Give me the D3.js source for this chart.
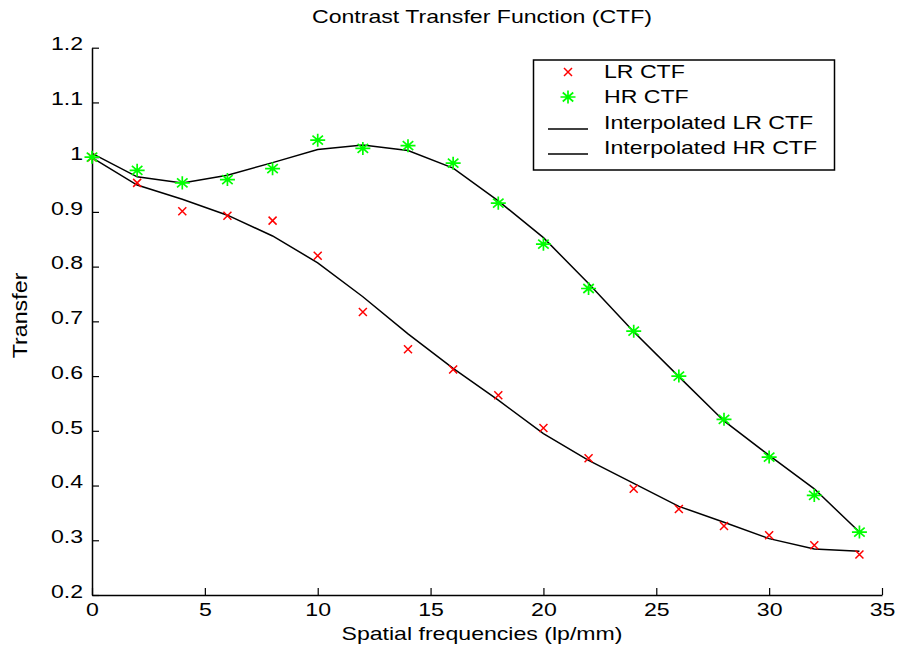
<!DOCTYPE html>
<html>
<head>
<meta charset="utf-8">
<script src="https://cdn.jsdelivr.net/npm/d3@7"></script>
<style>
  body { margin: 0; background: #fff; }
  svg text { font-family: "Liberation Sans", Arial, sans-serif; fill: #000; }
</style>
</head>
<body>
<svg id="chart" width="897" height="650"></svg>
<script>
// spatial frequencies (lp/mm)
var freqs = [0, 2, 4, 6, 8, 10, 12, 14, 16, 18, 20, 22, 24, 26, 28, 30, 32, 34];

// measured CTF values
var lrCtf = [1.0, 0.953, 0.901, 0.893, 0.884, 0.820, 0.717, 0.649, 0.612, 0.565, 0.505, 0.450, 0.394, 0.357, 0.326, 0.309, 0.291, 0.274];
var hrCtf = [1.0, 0.976, 0.953, 0.959, 0.979, 1.031, 1.016, 1.021, 0.989, 0.916, 0.841, 0.760, 0.682, 0.600, 0.521, 0.452, 0.382, 0.315];

// interpolated curves
var lrInterp = [0.999, 0.949, 0.923, 0.894, 0.856, 0.807, 0.745, 0.677, 0.614, 0.556, 0.495, 0.446, 0.404, 0.362, 0.333, 0.303, 0.284, 0.280];
var hrInterp = [1.007, 0.964, 0.953, 0.967, 0.990, 1.014, 1.022, 1.012, 0.980, 0.920, 0.853, 0.769, 0.681, 0.599, 0.518, 0.455, 0.394, 0.315];

var xTicks = [0, 5, 10, 15, 20, 25, 30, 35];
var yTicks = [0.2, 0.3, 0.4, 0.5, 0.6, 0.7, 0.8, 0.9, 1.0, 1.1, 1.2];

var legendLabels = ["LR CTF", "HR CTF", "Interpolated LR CTF", "Interpolated HR CTF"];

var svg = d3.select("#chart");
var plotL = 92, plotR = 882, plotT = 47.7, plotB = 595;
var fs = 17.5, sx = 1.32;   // the figure is stretched sideways, so is its text

var x = d3.scaleLinear().domain([0, 35]).range([plotL, plotR]);
var y = d3.scaleLinear().domain([0.2, 1.2]).range([plotB, plotT]);

// put a text at (px,py) and stretch it horizontally
function placeText(t, px, py) {
    t.attr("x", 0).attr("y", 0)
        .attr("transform", "translate(" + px + "," + py + ") scale(" + sx + ",1)");
}

// axes, ticks pointing inward
var xAxis = d3.axisBottom(x).tickValues(xTicks).tickSizeInner(-7).tickSizeOuter(0)
    .tickFormat(d3.format("d"));
var yAxis = d3.axisLeft(y).tickValues(yTicks).tickSizeInner(-7).tickSizeOuter(0)
    .tickFormat(function(d) { return d === 1 ? "1" : d3.format(".1f")(d); });

var gx = svg.append("g").attr("transform", "translate(0," + plotB + ")").call(xAxis);
var gy = svg.append("g").attr("transform", "translate(" + plotL + ",0)").call(yAxis);
[gx, gy].forEach(function(g) {
    g.selectAll("path").attr("stroke", "#000").attr("stroke-width", 1.5);
    g.selectAll("line").attr("stroke", "#000").attr("stroke-width", 1.2);
    g.selectAll("text").attr("font-size", fs).attr("fill", "#000")
        .style("font-family", "'Liberation Sans', Arial, sans-serif");
});
gx.selectAll("text").attr("dy", null).each(function() { placeText(d3.select(this), 0, 21); });
gy.selectAll("text").attr("dy", "0.3em").each(function() { placeText(d3.select(this), -9, -3); });

// lines
var line = d3.line()
    .x(function(d, i) { return x(freqs[i]); })
    .y(function(d) { return y(d); });

svg.append("path").datum(lrInterp).attr("d", line)
    .attr("fill", "none").attr("stroke", "#000").attr("stroke-width", 1.5);
svg.append("path").datum(hrInterp).attr("d", line)
    .attr("fill", "none").attr("stroke", "#000").attr("stroke-width", 1.5);

function cross(g, s) {
    g.append("path")
        .attr("d", "M" + (-s) + "," + (-s) + "L" + s + "," + s + "M" + (-s) + "," + s + "L" + s + "," + (-s))
        .attr("stroke", "#ff0000").attr("stroke-width", 1.5).attr("fill", "none");
}
function star(g, s) {
    var h = s * 0.87, dx = s * 0.7, dy = s * 0.6;
    g.append("path")
        .attr("d", "M" + (-s) + ",0L" + s + ",0M0," + (-h) + "L0," + h +
            "M" + (-dx) + "," + (-dy) + "L" + dx + "," + dy + "M" + (-dx) + "," + dy + "L" + dx + "," + (-dy))
        .attr("stroke", "#00ff00").attr("stroke-width", 1.7).attr("fill", "none");
}

svg.append("g").selectAll("g").data(lrCtf).join("g")
    .attr("transform", function(d, i) { return "translate(" + x(freqs[i]) + "," + y(d) + ")"; })
    .each(function() { cross(d3.select(this), 4); });

svg.append("g").selectAll("g").data(hrCtf).join("g")
    .attr("transform", function(d, i) { return "translate(" + x(freqs[i]) + "," + y(d) + ")"; })
    .each(function() { star(d3.select(this), 7.5); });

// titles
placeText(svg.append("text").attr("text-anchor", "middle").attr("font-size", fs)
    .text("Contrast Transfer Function (CTF)"), 482, 23);
placeText(svg.append("text").attr("text-anchor", "middle").attr("font-size", fs)
    .text("Spatial frequencies (lp/mm)"), 482, 640);
svg.append("text").attr("transform", "translate(26.5,315.5) rotate(-90) scale(1.33,1.2)")
    .attr("text-anchor", "middle").attr("font-size", fs).text("Transfer");

// legend
var leg = svg.append("g");
leg.append("rect").attr("x", 533.5).attr("y", 60).attr("width", 301).attr("height", 110)
    .attr("fill", "#fff").attr("stroke", "#000").attr("stroke-width", 1.5);
var rowY = [72, 97, 123, 148];
legendLabels.forEach(function(lab, i) {
    var g = leg.append("g").attr("transform", "translate(0," + rowY[i] + ")");
    if (i === 0) cross(g.append("g").attr("transform", "translate(568,0)"), 4);
    else if (i === 1) star(g.append("g").attr("transform", "translate(568,0)"), 7.5);
    else g.append("line").attr("x1", 548).attr("x2", 588).attr("y1", 6).attr("y2", 6)
        .attr("stroke", "#000").attr("stroke-width", 1.5);
    placeText(g.append("text").attr("dy", "0.36em").attr("font-size", fs).text(lab), 604, 0);
});
</script>
</body>
</html>
